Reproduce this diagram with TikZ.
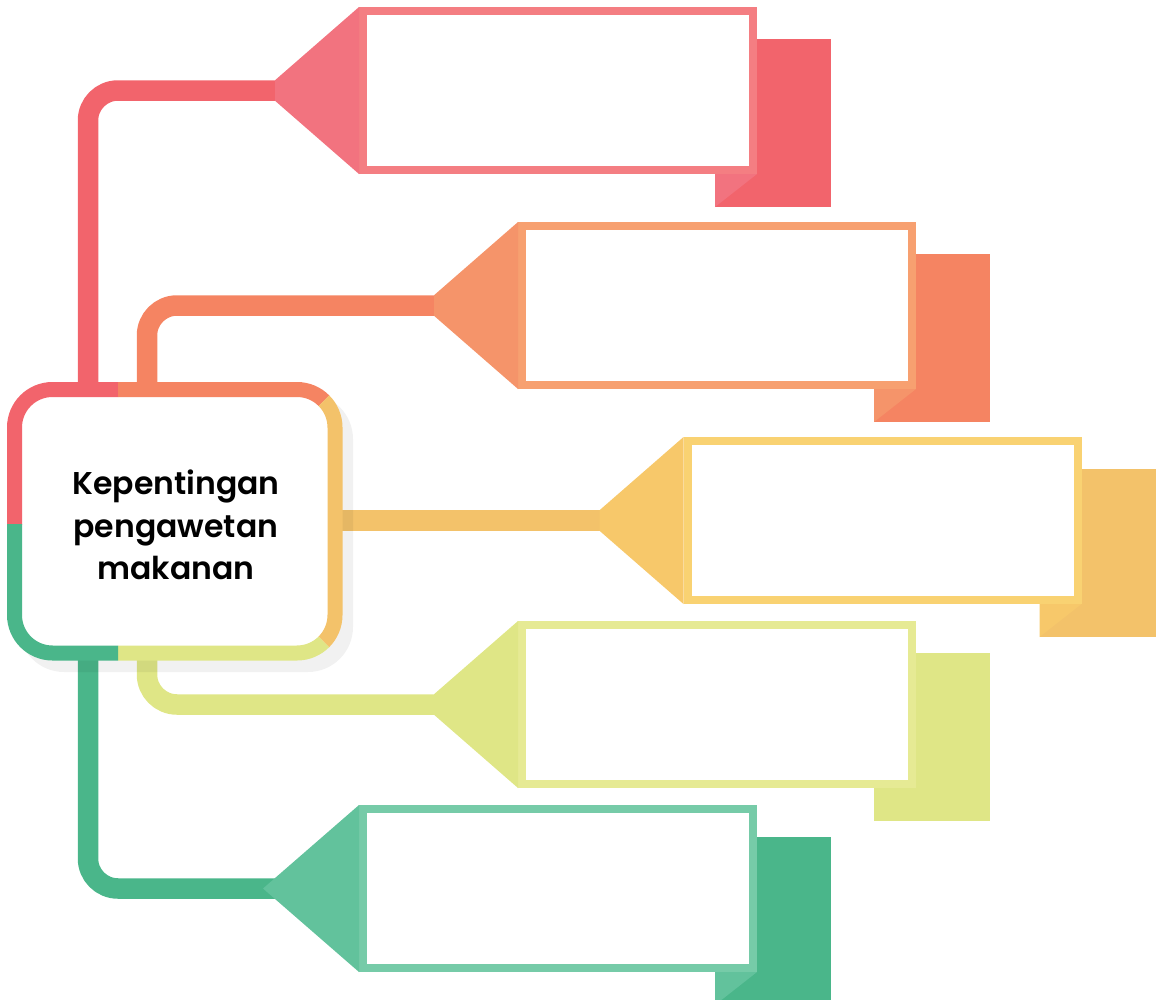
\documentclass[tikz,border=0pt]{standalone}
\usepackage{fontspec}
\setmainfont{Poppins}[BoldFont={Poppins SemiBold}]
\usetikzlibrary{calc}
\definecolor{r1}{HTML}{F2646C}\definecolor{r2}{HTML}{F2737F}\definecolor{r3}{HTML}{F47E82}
\definecolor{o1}{HTML}{F58462}\definecolor{o2}{HTML}{F5946A}\definecolor{o3}{HTML}{F7A070}
\definecolor{y1}{HTML}{F3C26A}\definecolor{y2}{HTML}{F7C86A}\definecolor{y3}{HTML}{F9D272}
\definecolor{l1}{HTML}{DFE686}\definecolor{l2}{HTML}{DFE686}\definecolor{l3}{HTML}{E6EA94}
\definecolor{g1}{HTML}{4AB68A}\definecolor{g2}{HTML}{62C29C}\definecolor{g3}{HTML}{76CBA8}
\begin{document}
\begin{tikzpicture}[x=1pt,y=-1pt,
  conn/.style={line width=20.5pt, rounded corners=30pt},
  textbox/.style={draw, line width=8pt, fill=white, minimum width=390pt, minimum height=159pt, inner sep=0pt},
  hubline/.style={line width=15pt, rounded corners=38pt}]
\useasboundingbox (0,0) rectangle (1157,999);

% boxes as nodes (positions)
\path node[textbox, draw=none, fill=none] (b1) at (558,90.5) {}
      node[textbox, draw=none, fill=none] (b2) at (717,305.5) {}
      node[textbox, draw=none, fill=none] (b3) at (882.5,520.5) {}
      node[textbox, draw=none, fill=none] (b4) at (717,704.5) {}
      node[textbox, draw=none, fill=none] (b5) at (558,888.5) {};

% connector end points
\coordinate (b1tip) at ($(b1.west)+(-84,0)$);
\coordinate (b2tip) at ($(b2.west)+(-84,0)$);
\coordinate (b3tip) at ($(b3.west)+(-84,0)$);
\coordinate (b4tip) at ($(b4.west)+(-84,0)$);
\coordinate (b5tip) at ($(b5.west)+(-84,0)$);
\coordinate (b5point) at ($(b5.west)+(-96,0)$);

\coordinate (h1) at (88,382);
\coordinate (h2) at (147,382);
\coordinate (h3) at (335,520.5);
\coordinate (h4) at (147,660);
\coordinate (h5) at (88,660);

% backs, folds and boxes
\foreach \b/\ca/\cb/\cc in {b1/r1/r2/r3, b2/o1/o2/o3, b3/y1/y2/y3, b4/l1/l2/l3, b5/g1/g2/g3}{
  \fill[\ca] ($(\b.north east)+(-42,32)$) rectangle ($(\b.south east)+(74,33)$);
  \fill[\cb] ($(\b.south east)+(-42,0)$) -- (\b.south east) -- ($(\b.south east)+(-42,33)$) -- cycle;
  \node[textbox, draw=\cc] at (\b) {};
}

% connectors
\draw[conn, r1] (h1) -- (h1 |- b1tip) -- (b1tip);
\draw[conn, o1] (h2) -- (h2 |- b2tip) -- (b2tip);
\draw[conn, y1] (h3) -- (b3tip);
\draw[conn, l1] (h4) -- (h4 |- b4tip) -- (b4tip);
\draw[conn, g1] (h5) -- (h5 |- b5tip) -- (b5tip);

% funnels
\foreach \b/\cb in {b1/r2, b2/o2, b3/y2, b4/l2}{
  \fill[\cb] ($(\b tip)+(0,-10.25)$) -- (\b.north west) -- (\b.south west) -- ($(\b tip)+(0,10.25)$) -- cycle;
}
\fill[g2] (b5point) -- (b5.north west) -- (b5.south west) -- cycle;

% shadow
\fill[black, opacity=0.055, rounded corners=45pt] (19,394) rectangle (353,672);

% hub
\fill[white, rounded corners=38pt] (14.5,389.5) rectangle (335,653);
\begin{scope}
  \clip (0,370) rectangle (118,524);
  \draw[hubline, r1] (14.5,389.5) rectangle (335,653);
\end{scope}
\begin{scope}
  \clip (118,370) -- (354.5,370) -- (250,474.5) -- (118,474.5) -- cycle;
  \draw[hubline, o1] (14.5,389.5) rectangle (335,653);
\end{scope}
\begin{scope}
  \clip (354.5,370) -- (400,370) -- (400,680) -- (362,680) -- (250,568) -- (250,474.5) -- cycle;
  \draw[hubline, y1] (14.5,389.5) rectangle (335,653);
\end{scope}
\begin{scope}
  \clip (118,568) -- (250,568) -- (362,680) -- (118,680) -- cycle;
  \draw[hubline, l1] (14.5,389.5) rectangle (335,653);
\end{scope}
\begin{scope}
  \clip (0,524) rectangle (118,680);
  \draw[hubline, g1] (14.5,389.5) rectangle (335,653);
\end{scope}
\node[align=center, font=\fontsize{31.5}{42.5}\selectfont\bfseries, inner sep=0pt] (hub) at (176,525) {Kepentingan\\pengawetan\\makanan};
\end{tikzpicture}
\end{document}
